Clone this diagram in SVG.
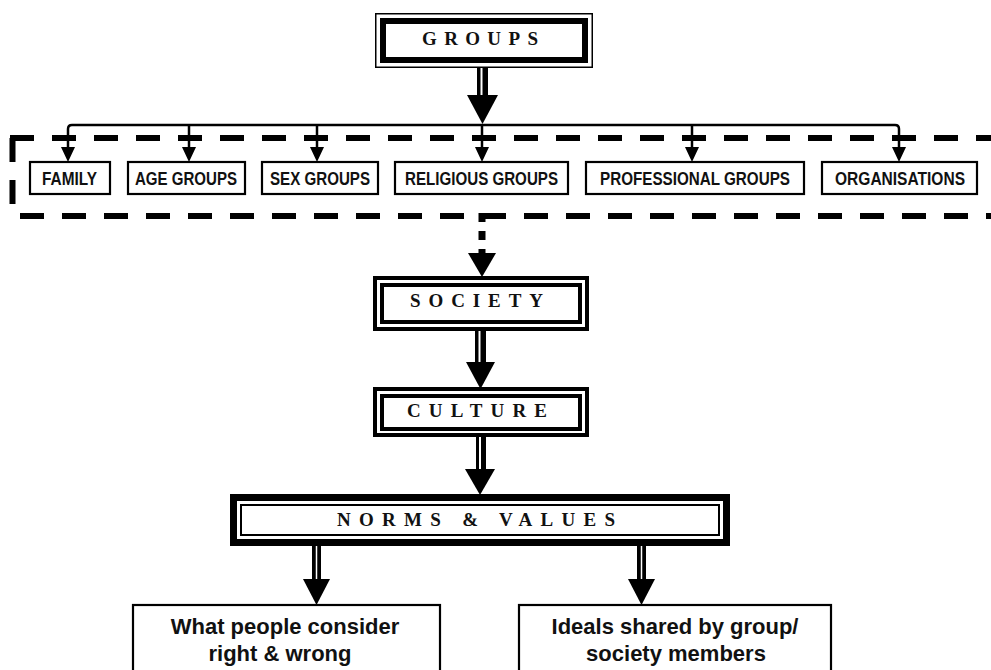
<svg xmlns="http://www.w3.org/2000/svg" width="991" height="670" viewBox="0 0 991 670">
<style>
  .thin{fill:none;stroke:#000;stroke-width:1.5}
  .thick{fill:#fff;stroke:#000;stroke-width:6}
  .dbl{fill:#fff;stroke:#000;stroke-width:4}
  .box{fill:#fff;stroke:#000;stroke-width:2.2}
  .title{font-family:"Liberation Serif","Times New Roman",serif;font-weight:bold;font-size:19px;fill:#111}
  .lbl{font-family:"Liberation Sans",Arial,sans-serif;font-weight:bold;font-size:18px;fill:#111}
  .big{font-family:"Liberation Sans",Arial,sans-serif;font-weight:bold;font-size:22px;fill:#111;text-anchor:middle}
  .head{fill:#000}
  .shaft{fill:#000}
  .gap{stroke:#fff;fill:none}
  .dash{fill:none;stroke:#000;stroke-width:6;stroke-dasharray:24 18}
</style>
<rect width="991" height="670" fill="#fff"/>

<g id="connectors">
  <!-- GROUPS down -->
  <rect class="shaft" x="477" y="67" width="11" height="30"/>
  <line class="gap" x1="481.5" y1="67" x2="481.5" y2="96" stroke-width="2"/>
  <polygon class="head" points="467,95 498,95 482.5,124"/>
  <!-- horizontal bus -->
  <path d="M68 149 V129 Q68 125 72 125 H895 Q899 125 899 129 V149" fill="none" stroke="#000" stroke-width="2.5"/>
  <g stroke="#000" stroke-width="2.5">
    <line x1="189" y1="124" x2="189" y2="149"/>
    <line x1="317" y1="124" x2="317" y2="149"/>
    <line x1="482" y1="124" x2="482" y2="149"/>
    <line x1="692" y1="124" x2="692" y2="149"/>
  </g>
  <polygon class="head" points="61,147 75,147 68,162"/>
  <polygon class="head" points="182,147 196,147 189,162"/>
  <polygon class="head" points="310,147 324,147 317,162"/>
  <polygon class="head" points="475,147 489,147 482,162"/>
  <polygon class="head" points="685,147 699,147 692,162"/>
  <polygon class="head" points="892,147 906,147 899,162"/>
  <!-- dashed enclosure -->
  <path class="dash" d="M10 138 H995"/>
  <path class="dash" d="M12.5 138 V216"/>
  <path class="dash" d="M20 216 H995"/>
  <!-- dotted to society -->
  <line x1="482" y1="213" x2="482" y2="253" stroke="#000" stroke-width="7" stroke-dasharray="9 9"/>
  <polygon class="head" points="468,253 496,253 482,277"/>
  <!-- society to culture -->
  <rect class="shaft" x="475" y="330" width="11" height="34"/>
  <line class="gap" x1="479.5" y1="330" x2="479.5" y2="363" stroke-width="2"/>
  <polygon class="head" points="466,362 495,362 480.5,389"/>
  <!-- culture to norms -->
  <rect class="shaft" x="476" y="436" width="10" height="35"/>
  <line class="gap" x1="480" y1="436" x2="480" y2="470" stroke-width="2"/>
  <polygon class="head" points="465,469 495,469 480,495"/>
  <!-- norms to bottom boxes -->
  <rect class="shaft" x="312" y="545" width="9" height="36"/>
  <line class="gap" x1="316.5" y1="545" x2="316.5" y2="580" stroke-width="1.5"/>
  <polygon class="head" points="303,579 330,579 316.5,605"/>
  <rect class="shaft" x="637" y="545" width="9" height="36"/>
  <line class="gap" x1="641.5" y1="545" x2="641.5" y2="580" stroke-width="1.5"/>
  <polygon class="head" points="628,579 655,579 641.5,605"/>
</g>

<g id="groups">
  <rect class="thin" x="375.75" y="13.75" width="216.5" height="53.5"/>
  <rect class="thick" x="383" y="21" width="202" height="39"/>
  <text class="title" x="422" y="45" textLength="116" lengthAdjust="spacing">GROUPS</text>
</g>

<g id="family"><rect class="box" x="30" y="162" width="80" height="32"/><text class="lbl" x="42" y="185" textLength="55" lengthAdjust="spacingAndGlyphs">FAMILY</text></g>
<g id="age-groups"><rect class="box" x="128" y="162" width="117" height="32"/><text class="lbl" x="135" y="185" textLength="102" lengthAdjust="spacingAndGlyphs">AGE GROUPS</text></g>
<g id="sex-groups"><rect class="box" x="262" y="162" width="116" height="32"/><text class="lbl" x="270" y="185" textLength="100" lengthAdjust="spacingAndGlyphs">SEX GROUPS</text></g>
<g id="religious-groups"><rect class="box" x="395" y="162" width="173" height="32"/><text class="lbl" x="405" y="185" textLength="153" lengthAdjust="spacingAndGlyphs">RELIGIOUS GROUPS</text></g>
<g id="professional-groups"><rect class="box" x="586" y="162" width="218" height="32"/><text class="lbl" x="600" y="185" textLength="190" lengthAdjust="spacingAndGlyphs">PROFESSIONAL GROUPS</text></g>
<g id="organisations"><rect class="box" x="822" y="162" width="155" height="32"/><text class="lbl" x="835" y="185" textLength="130" lengthAdjust="spacingAndGlyphs">ORGANISATIONS</text></g>

<g id="society">
  <rect class="dbl" x="375" y="278" width="212" height="51"/>
  <rect class="dbl" x="382" y="285" width="198" height="37"/>
  <text class="title" x="410" y="307" textLength="133" lengthAdjust="spacing">SOCIETY</text>
</g>

<g id="culture">
  <rect class="dbl" x="375" y="389" width="212" height="46"/>
  <rect class="dbl" x="382" y="396" width="198" height="33"/>
  <text class="title" x="407" y="417" textLength="140" lengthAdjust="spacing">CULTURE</text>
</g>

<g id="norms-values">
  <rect fill="#fff" stroke="#000" stroke-width="7" x="233.5" y="497.5" width="493" height="45"/>
  <rect fill="none" stroke="#000" stroke-width="2" x="241" y="505" width="478" height="30"/>
  <text class="title" x="337" y="526" textLength="278" lengthAdjust="spacing">NORMS &amp; VALUES</text>
</g>

<g id="right-wrong">
  <rect class="box" x="133" y="605" width="307" height="80"/>
  <text class="big" x="285" y="634">What people consider</text>
  <text class="big" x="280" y="661">right &amp; wrong</text>
</g>

<g id="ideals">
  <rect class="box" x="519" y="605" width="312" height="80"/>
  <text class="big" x="675" y="634">Ideals shared by group/</text>
  <text class="big" x="676" y="661">society members</text>
</g>
</svg>
